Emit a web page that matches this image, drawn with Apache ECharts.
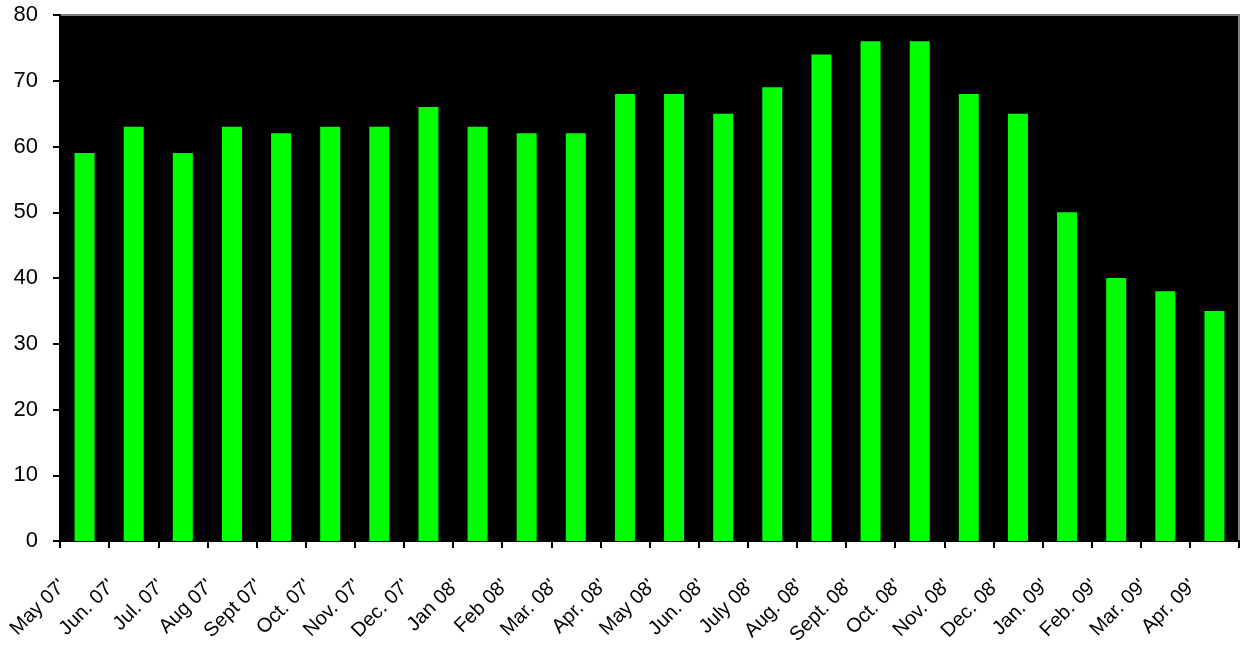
<!DOCTYPE html>
<html><head><meta charset="utf-8">
<script src="https://cdn.jsdelivr.net/npm/echarts@6/dist/echarts.min.js"></script>
<style>html,body{margin:0;padding:0;background:#fff}#c{width:1241px;height:646px}</style>
</head><body><div id="c"></div>
<script>
const categories = ["May 07'","Jun. 07'","Jul. 07'","Aug 07'","Sept 07'","Oct. 07'","Nov. 07'","Dec. 07'","Jan 08'","Feb 08'","Mar. 08'","Apr. 08'","May 08'","Jun. 08'","July 08'","Aug. 08'","Sept. 08'","Oct. 08'","Nov. 08'","Dec. 08'","Jan. 09'","Feb. 09'","Mar. 09'","Apr. 09'"];
const values = [59,63,59,63,62,63,63,66,63,62,62,68,68,65,69,74,76,76,68,65,50,40,38,35];
const yTicks = {min:0, max:80, interval:10};

const chart = echarts.init(document.getElementById('c'));
chart.setOption({
  animation:false,
  grid:{left:60,right:2,top:15,bottom:105,outerBoundsMode:'none',containLabel:false,show:true,backgroundColor:'#000',borderColor:'#808080',borderWidth:2},
  xAxis:{type:'category',data:categories,
    axisLine:{lineStyle:{color:'#000',width:2}},
    axisTick:{show:true,length:7,lineStyle:{color:'#000',width:2}},
    axisLabel:{rotate:45,interval:0,margin:20,padding:[0,31,0,0],fontFamily:'Liberation Sans, Arial',fontSize:20,color:'#000'}
  },
  yAxis:{type:'value',min:yTicks.min,max:yTicks.max,interval:yTicks.interval,
    splitLine:{show:false},
    axisLine:{show:true,lineStyle:{color:'#000',width:2}},
    axisTick:{show:true,length:7,lineStyle:{color:'#000',width:2}},
    axisLabel:{margin:22,fontFamily:'Liberation Sans, Arial',fontSize:22,color:'#000'}
  },
  series:[{type:'bar',data:values,barWidth:20,itemStyle:{color:'#00ff00'}}]
});
</script></body></html>
